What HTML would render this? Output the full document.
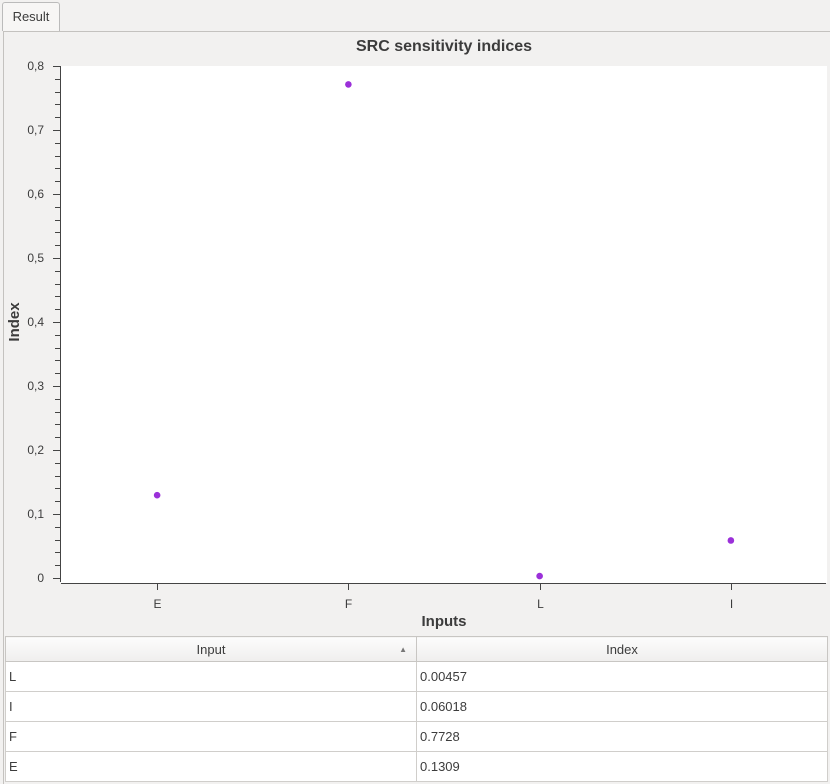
<!DOCTYPE html>
<html><head><meta charset="utf-8"><style>
body{margin:0;width:830px;height:783px;background:#f2f1f0;font-family:"Liberation Sans",sans-serif;position:relative;overflow:hidden}
.tab{position:absolute;left:2px;top:2px;width:56px;height:28px;border:1px solid #bbb;border-bottom:none;border-radius:3px 3px 0 0;background:#f7f6f5;font-size:13px;color:#3c3c3c;line-height:28px;text-align:center}
.frame{position:absolute;left:3px;top:31px;width:826px;height:752px;border:1px solid #c4c2bf;border-right:none;border-bottom:none}
table{position:absolute;left:5px;top:636px;width:823px;border-collapse:collapse;table-layout:fixed;font-size:13px;color:#3c3c3c;background:#fff}
th{height:24px;padding:0;font-weight:normal;background:linear-gradient(#fcfcfc,#efeeed);border:1px solid #c8c6c3;position:relative}
td{height:30px;box-sizing:border-box;border:1px solid #d0cecb;padding:0 0 0 3px;text-align:left}
</style></head><body>
<div class="tab">Result</div>
<div class="frame"></div>
<svg id="chart" width="830" height="636" style="position:absolute;left:0;top:0">
<rect x="61" y="66" width="766" height="517" fill="#fff"/>
<text x="444" y="51" text-anchor="middle" font-size="16" font-weight="bold" fill="#3c3c3c">SRC sensitivity indices</text>
<text x="444" y="626" text-anchor="middle" font-size="15" font-weight="bold" fill="#3c3c3c">Inputs</text>
<text transform="translate(19,322) rotate(-90)" text-anchor="middle" font-size="15" font-weight="bold" fill="#3c3c3c">Index</text>
<g id="g"></g>
</svg>
<table>
<tr><th style="width:410px">Input<span style="position:absolute;right:9px;top:8px;font-size:8px;color:#777">▲</span></th><th>Index</th></tr>
<tr><td>L</td><td>0.00457</td></tr>
<tr><td>I</td><td>0.06018</td></tr>
<tr><td>F</td><td>0.7728</td></tr>
<tr><td>E</td><td>0.1309</td></tr>
</table>
<script>
const categories=["E","F","L","I"];
const values=[0.1309,0.7728,0.00457,0.06018];
const yTicks=[0,0.1,0.2,0.3,0.4,0.5,0.6,0.7,0.8];
const yTickLabels=["0","0,1","0,2","0,3","0,4","0,5","0,6","0,7","0,8"];
const yMax=0.8;
const x0=61.5,x1=826.5,yb=579,yt=67;
const xs=i=>x0+(i+0.5)*(x1-x0)/categories.length;
const ys=v=>yb-(v/yMax)*(yb-yt);
const g=document.getElementById('g');const NS='http://www.w3.org/2000/svg';
function mk(t,a){const e=document.createElementNS(NS,t);for(const k in a)e.setAttribute(k,a[k]);g.appendChild(e);return e;}
let e=mk('line',{x1:60.5,y1:66,x2:60.5,y2:582,stroke:'#444'});


e=mk('line',{x1:61,y1:583.5,x2:826,y2:583.5,stroke:'#444'});


for(let v=0;v<=yMax+1e-9;v+=0.02){const y=Math.round(ys(v))-0.5;const maj=Math.abs(v*10-Math.round(v*10))<1e-6;
e=mk('line',{x1:maj?53:55,y1:y,x2:60,y2:y,stroke:'#444'});

}
yTicks.forEach((v,i)=>{e=mk('text',{x:44,y:ys(v)+3,'text-anchor':'end','font-size':12,fill:'#3c3c3c'});e.textContent=yTickLabels[i];

});
categories.forEach((c,i)=>{const x=Math.round(xs(i))+0.5;
e=mk('line',{x1:x,y1:584,x2:x,y2:590,stroke:'#444'});


e=mk('text',{x:x,y:608,'text-anchor':'middle','font-size':12,fill:'#3c3c3c'});e.textContent=c;


e=mk('circle',{cx:xs(i),cy:ys(values[i]),r:3.3,fill:'#9b30d9'});

});
</script>
</body></html>
